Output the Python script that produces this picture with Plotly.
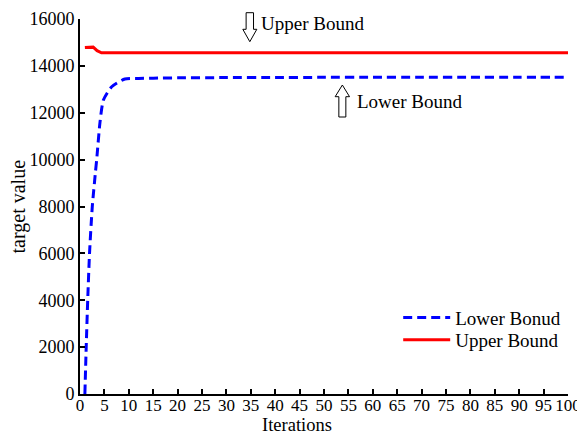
import plotly.graph_objects as go

# Readings from the chart
lower_iter = [1, 1.27, 1.58, 1.95, 2.52, 3.18, 3.42, 4.1, 4.8, 6.5, 9.2, 12, 15, 20, 30, 40,
              50, 60, 70, 80, 90, 100]
lower_vals = [0, 2000, 4000, 6000, 8000, 9500, 10000, 11600, 12540, 13110, 13440, 13465, 13475,
              13490, 13500, 13505, 13510, 13510, 13510, 13510, 13510, 13510]
upper_iter = [1, 2, 2.7, 3.5, 4.4, 10, 20, 40, 60, 80, 100]
upper_vals = [14780, 14790, 14800, 14650, 14560, 14560, 14560, 14560, 14560, 14560, 14560]

x_ticks = list(range(0, 101, 5))
y_ticks = list(range(0, 16001, 2000))

FONT = "Liberation Serif"

fig = go.Figure()
fig.add_trace(go.Scatter(x=lower_iter, y=lower_vals, mode="lines", name="Lower Bonud",
                         legend="legend",
                         line=dict(color="rgb(0,0,255)", width=3, dash="9px,5px",
                                   shape="spline", smoothing=0.6)))
fig.add_trace(go.Scatter(x=upper_iter, y=upper_vals, mode="lines", name="Upper Bound",
                         legend="legend2",
                         line=dict(color="rgb(255,0,0)", width=3)))

axis_common = dict(showline=True, linewidth=2, linecolor="black", ticks="inside",
                   ticklen=5, tickwidth=1.5, tickcolor="black", showgrid=False,
                   zeroline=False, mirror=False, automargin=False, tickangle=0)

fig.update_xaxes(range=[0, 100], tickvals=x_ticks, ticktext=[str(v) for v in x_ticks],
                 tickfont=dict(family=FONT, size=17, color="black"),
                 ticklabelstandoff=-5,
                 **axis_common)
fig.update_yaxes(range=[0, 16000], tickvals=y_ticks, ticktext=[str(v) for v in y_ticks],
                 tickfont=dict(family=FONT, size=18, color="black"),
                 **axis_common)

# Axis titles as annotations (placed as in the reference)
fig.add_annotation(xref="paper", yref="paper", x=(297 - 80) / 487.7, y=(394 - 425) / 375,
                   text="Iterations", showarrow=False, xanchor="center", yanchor="middle",
                   borderpad=0, font=dict(family=FONT, size=18.5, color="black"))
fig.add_annotation(xref="paper", yref="paper", x=(19 - 80) / 487.7, y=(394 - 206.5) / 375,
                   text="target value", showarrow=False, xanchor="center", yanchor="middle",
                   borderpad=0, textangle=-90, font=dict(family=FONT, size=20, color="black"))

# Hollow block arrows (pixel-sized shapes anchored in paper coords)
down_arrow = "M -3.7,0 L 3.7,0 L 3.7,-16.6 L 7,-16.6 L 0,-29 L -7,-16.6 L -3.7,-16.6 Z"
up_arrow = "M 0,0 L 7.2,-11.7 L 3.5,-11.7 L 3.5,-32 L -3.5,-32 L -3.5,-11.7 L -7.2,-11.7 Z"
for anchor_x, anchor_y, p in [(0.348, 1.0168, down_arrow), (0.5376, 0.824, up_arrow)]:
    fig.add_shape(type="path", xref="paper", yref="paper", xsizemode="pixel",
                  ysizemode="pixel", xanchor=anchor_x, yanchor=anchor_y, path=p,
                  line=dict(color="black", width=1), fillcolor="white", layer="above")

fig.add_annotation(xref="paper", yref="paper", x=(258.5 - 80) / 487.7, y=(394 - 24) / 375,
                   text="Upper Bound", showarrow=False, xanchor="left", yanchor="middle",
                   font=dict(family=FONT, size=19, color="black"))
fig.add_annotation(xref="paper", yref="paper", x=(354.5 - 80) / 487.7, y=(394 - 101.7) / 375,
                   text="Lower Bound", showarrow=False, xanchor="left", yanchor="middle",
                   font=dict(family=FONT, size=19, color="black"))

leg_common = dict(xanchor="left", yanchor="middle", bgcolor="rgba(0,0,0,0)",
                  font=dict(family=FONT, size=19, color="black"), itemwidth=47)
# The page body adds an 8px offset, so the figure is 8px smaller with the plot area kept in place
fig.update_layout(
    width=577, height=428,
    margin=dict(l=72, r=17, t=11, b=42),
    paper_bgcolor="white", plot_bgcolor="white",
    showlegend=True,
    legend=dict(x=(398 - 80) / 487.7, y=(394 - 317.7) / 375, **leg_common),
    legend2=dict(x=(398 - 80) / 487.7, y=(394 - 340) / 375, **leg_common),
)

fig.write_html("out.html")
